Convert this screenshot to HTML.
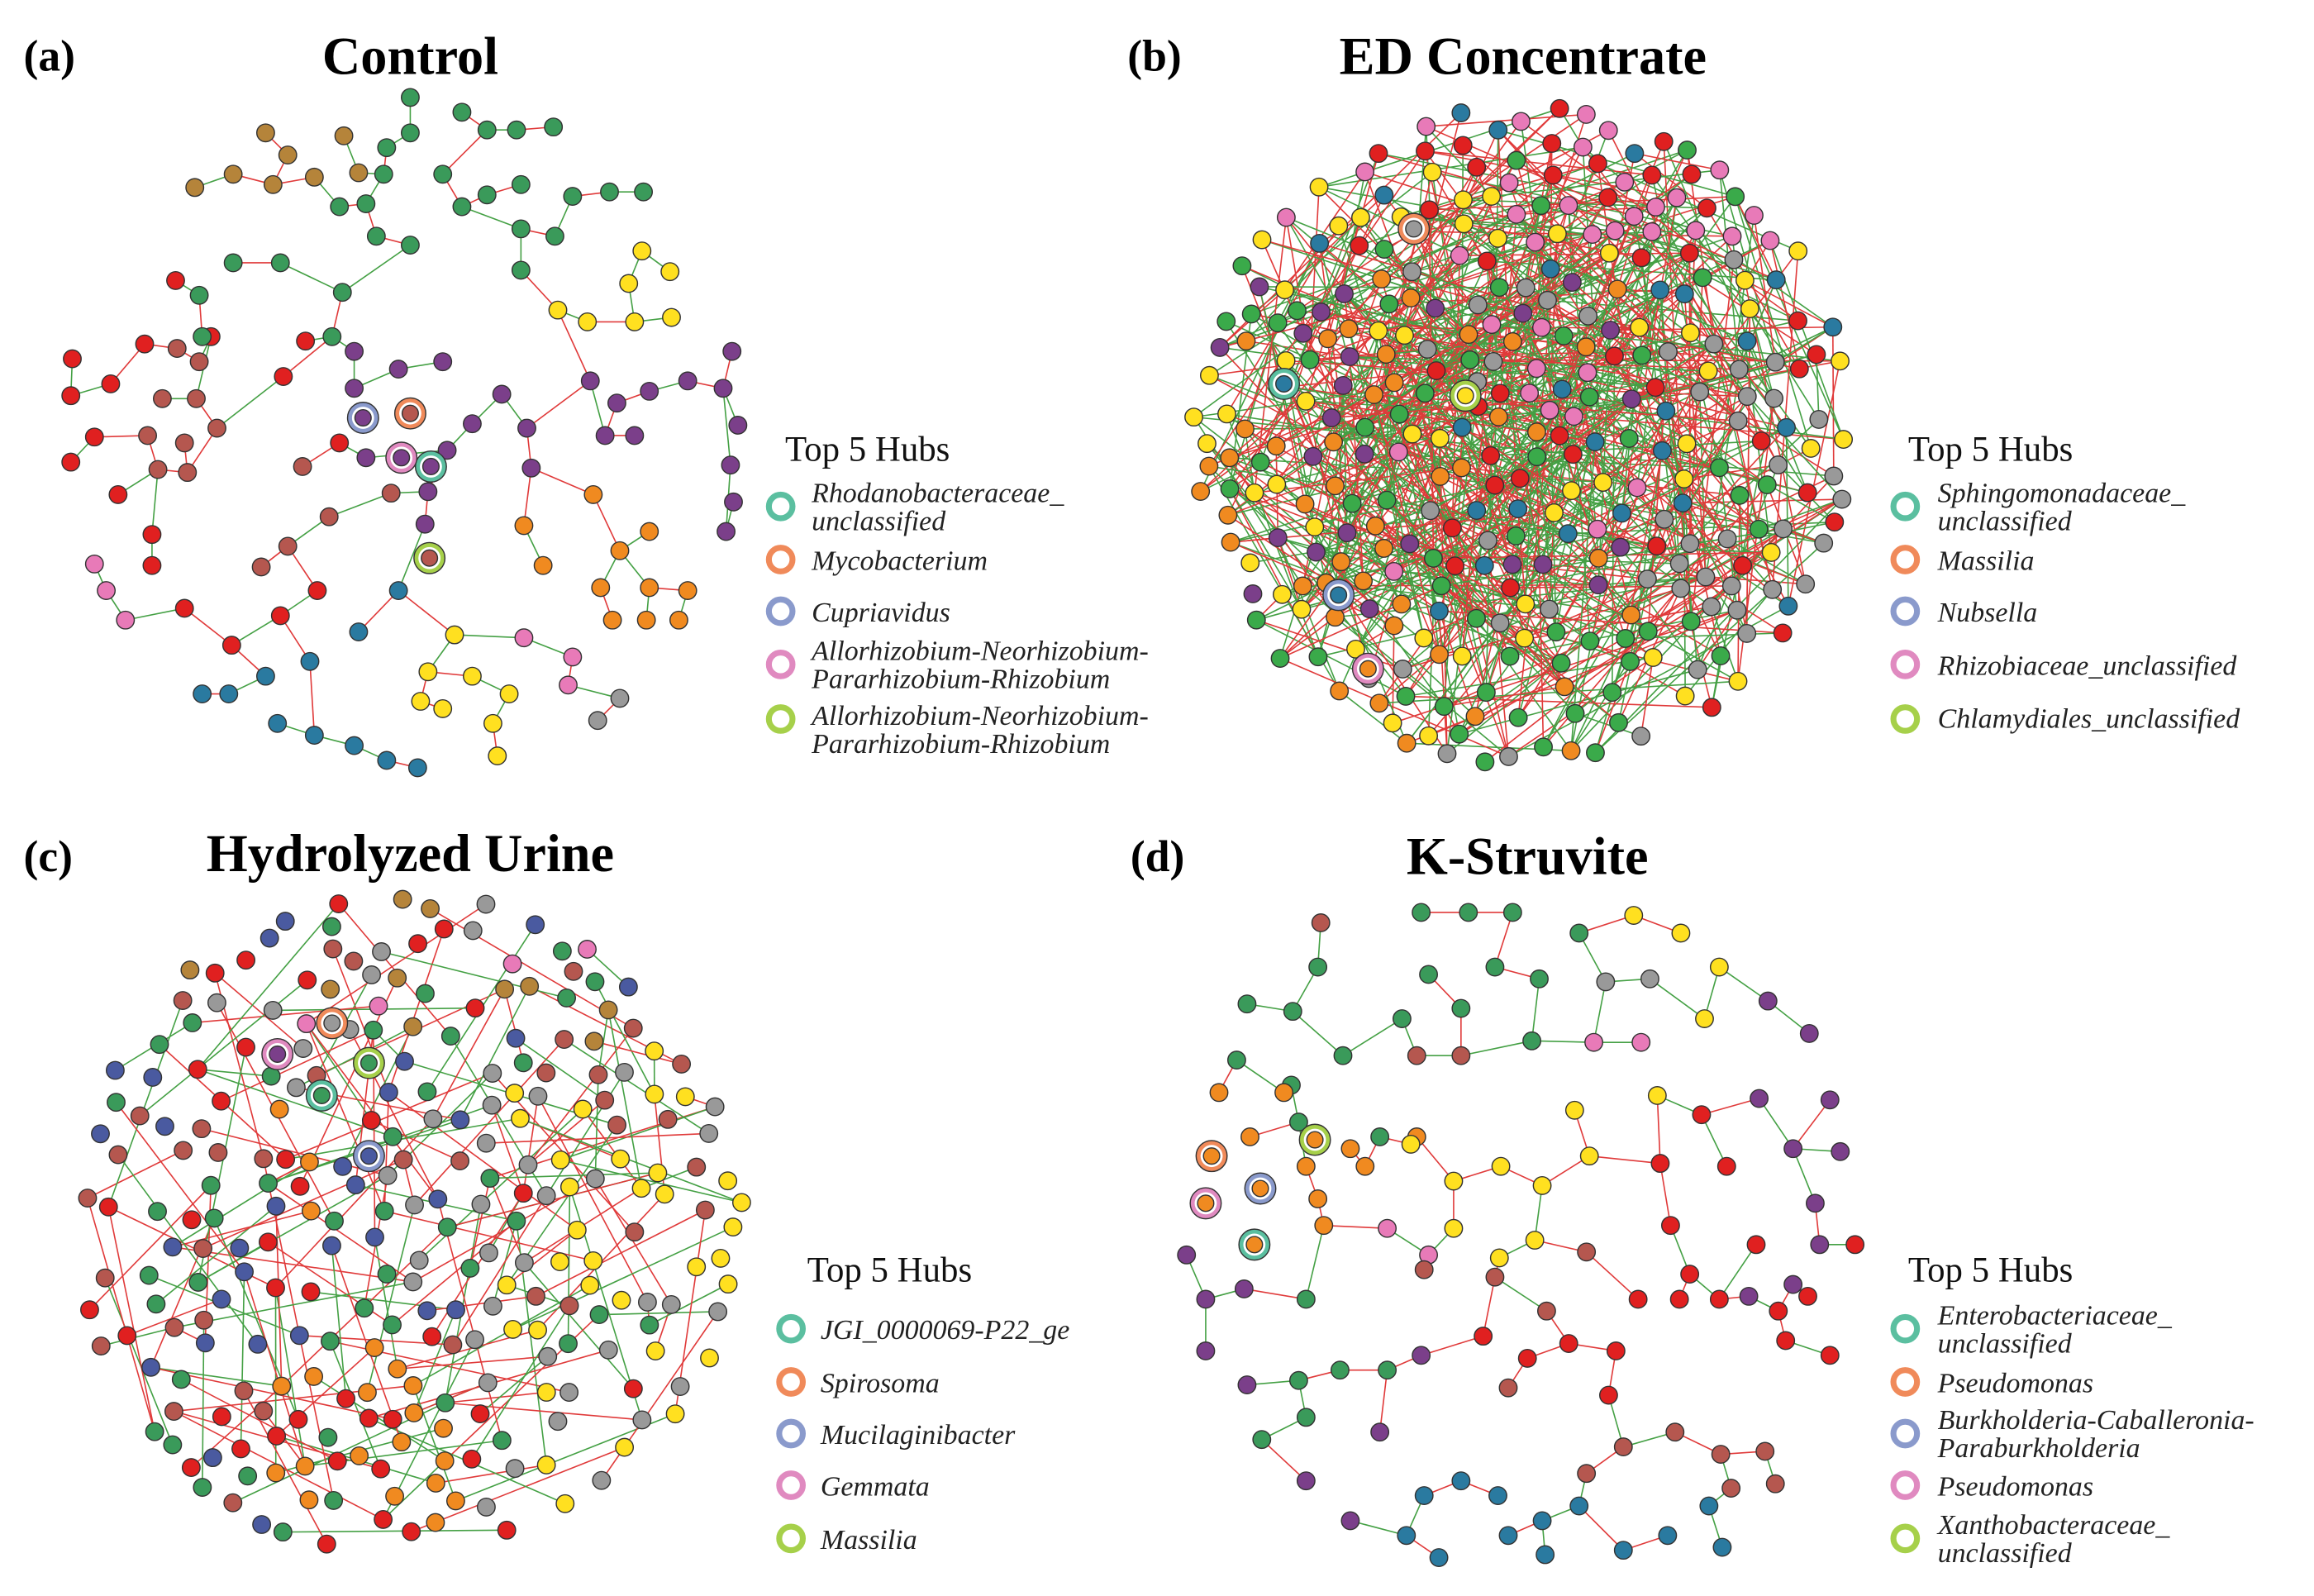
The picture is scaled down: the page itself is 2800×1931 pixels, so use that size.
<!DOCTYPE html>
<html><head><meta charset="utf-8">
<style>
html,body{margin:0;padding:0;background:#fff;}
svg{display:block;}
.t{font-family:"Liberation Serif",serif;font-weight:bold;fill:#000;}
.lg{font-family:"Liberation Serif",serif;fill:#111;font-size:24px;}
.it{font-family:"Liberation Serif",serif;font-style:italic;fill:#222;font-size:19px;}
</style></head>
<body>
<svg id="s" xmlns="http://www.w3.org/2000/svg" width="2800" height="1931" viewBox="0 0 1568 1081" preserveAspectRatio="none">
<rect width="1568" height="1081" fill="#fff"/>
<g id="edges"></g><g id="nodes"></g>
<text class="t" x="16" y="48" font-size="30">(a)</text>
<text class="t" x="278" y="50" font-size="36" text-anchor="middle">Control</text>
<text class="t" x="764" y="48" font-size="30">(b)</text>
<text class="t" x="1032" y="50" font-size="36" text-anchor="middle">ED Concentrate</text>
<text class="t" x="16" y="590" font-size="30">(c)</text>
<text class="t" x="278" y="590" font-size="36" text-anchor="middle">Hydrolyzed Urine</text>
<text class="t" x="766" y="590" font-size="30">(d)</text>
<text class="t" x="1035" y="592" font-size="36" text-anchor="middle">K-Struvite</text>

<g>
<text class="lg" x="532" y="312">Top 5 Hubs</text>
<circle cx="529" cy="343" r="8" fill="none" stroke="#5bbfa0" stroke-width="4"/>
<text class="it" x="550" y="340">Rhodanobacteraceae_</text><text class="it" x="550" y="359">unclassified</text>
<circle cx="529" cy="379" r="8" fill="none" stroke="#f08a5a" stroke-width="4"/>
<text class="it" x="550" y="386">Mycobacterium</text>
<circle cx="529" cy="414" r="8" fill="none" stroke="#8a9acc" stroke-width="4"/>
<text class="it" x="550" y="421">Cupriavidus</text>
<circle cx="529" cy="450" r="8" fill="none" stroke="#e08ac0" stroke-width="4"/>
<text class="it" x="550" y="447">Allorhizobium-Neorhizobium-</text><text class="it" x="550" y="466">Pararhizobium-Rhizobium</text>
<circle cx="529" cy="487" r="8" fill="none" stroke="#a6d04a" stroke-width="4"/>
<text class="it" x="550" y="491">Allorhizobium-Neorhizobium-</text><text class="it" x="550" y="510">Pararhizobium-Rhizobium</text>
</g>
<g>
<text class="lg" x="1293" y="312">Top 5 Hubs</text>
<circle cx="1291" cy="343" r="8" fill="none" stroke="#5bbfa0" stroke-width="4"/>
<text class="it" x="1313" y="340">Sphingomonadaceae_</text><text class="it" x="1313" y="359">unclassified</text>
<circle cx="1291" cy="379" r="8" fill="none" stroke="#f08a5a" stroke-width="4"/>
<text class="it" x="1313" y="386">Massilia</text>
<circle cx="1291" cy="414" r="8" fill="none" stroke="#8a9acc" stroke-width="4"/>
<text class="it" x="1313" y="421">Nubsella</text>
<circle cx="1291" cy="450" r="8" fill="none" stroke="#e08ac0" stroke-width="4"/>
<text class="it" x="1313" y="457">Rhizobiaceae_unclassified</text>
<circle cx="1291" cy="487" r="8" fill="none" stroke="#a6d04a" stroke-width="4"/>
<text class="it" x="1313" y="493">Chlamydiales_unclassified</text>
</g>
<g>
<text class="lg" x="547" y="868">Top 5 Hubs</text>
<circle cx="536" cy="900" r="8" fill="none" stroke="#5bbfa0" stroke-width="4"/>
<text class="it" x="556" y="907">JGI_0000069-P22_ge</text>
<circle cx="536" cy="936" r="8" fill="none" stroke="#f08a5a" stroke-width="4"/>
<text class="it" x="556" y="943">Spirosoma</text>
<circle cx="536" cy="971" r="8" fill="none" stroke="#8a9acc" stroke-width="4"/>
<text class="it" x="556" y="978">Mucilaginibacter</text>
<circle cx="536" cy="1006" r="8" fill="none" stroke="#e08ac0" stroke-width="4"/>
<text class="it" x="556" y="1013">Gemmata</text>
<circle cx="536" cy="1042" r="8" fill="none" stroke="#a6d04a" stroke-width="4"/>
<text class="it" x="556" y="1049">Massilia</text>
</g>
<g>
<text class="lg" x="1293" y="868">Top 5 Hubs</text>
<circle cx="1291" cy="900" r="8" fill="none" stroke="#5bbfa0" stroke-width="4"/>
<text class="it" x="1313" y="897">Enterobacteriaceae_</text><text class="it" x="1313" y="916">unclassified</text>
<circle cx="1291" cy="936" r="8" fill="none" stroke="#f08a5a" stroke-width="4"/>
<text class="it" x="1313" y="943">Pseudomonas</text>
<circle cx="1291" cy="971" r="8" fill="none" stroke="#8a9acc" stroke-width="4"/>
<text class="it" x="1313" y="968">Burkholderia-Caballeronia-</text><text class="it" x="1313" y="987">Paraburkholderia</text>
<circle cx="1291" cy="1006" r="8" fill="none" stroke="#e08ac0" stroke-width="4"/>
<text class="it" x="1313" y="1013">Pseudomonas</text>
<circle cx="1291" cy="1042" r="8" fill="none" stroke="#a6d04a" stroke-width="4"/>
<text class="it" x="1313" y="1039">Xanthobacteraceae_</text><text class="it" x="1313" y="1058">unclassified</text>
</g>
</svg>
<script>
(function(){
var NS="http://www.w3.org/2000/svg";
var E=document.getElementById("edges"),N=document.getElementById("nodes");
var seed=12345;function rnd(){seed=(seed*1103515245+12345)%2147483648;return seed/2147483648;}
function line(a,b,c){var l=document.createElementNS(NS,"line");l.setAttribute("x1",a[0]);l.setAttribute("y1",a[1]);l.setAttribute("x2",b[0]);l.setAttribute("y2",b[1]);l.setAttribute("stroke",c);l.setAttribute("stroke-width","0.9");E.appendChild(l);}
function node(x,y,c,r){var k=document.createElementNS(NS,"circle");k.setAttribute("cx",x);k.setAttribute("cy",y);k.setAttribute("r",r||6);k.setAttribute("fill",c);k.setAttribute("stroke","#333");k.setAttribute("stroke-width","0.8");N.appendChild(k);}
function hub(x,y,ring,c){var k=document.createElementNS(NS,"circle");k.setAttribute("cx",x);k.setAttribute("cy",y);k.setAttribute("r",10.5);k.setAttribute("fill",ring);k.setAttribute("stroke","#333");k.setAttribute("stroke-width","0.8");N.appendChild(k);
var k2=document.createElementNS(NS,"circle");k2.setAttribute("cx",x);k2.setAttribute("cy",y);k2.setAttribute("r",7.5);k2.setAttribute("fill","#fff");N.appendChild(k2);node(x,y,c,5.5);}
var RED="#e03a3a",GRN="#44a044";
var C={g:"#3a9a5a",o:"#b5843a",r:"#e02020",b:"#b5574f",p:"#7b3f8a",y:"#ffe020",O:"#f08a20",t:"#2a7aa0",k:"#e87ab8",x:"#999999",n:"#4a5aa0",G:"#3aaa4a"};
function sparse(list){var pts=list.map(function(s){return [s[0],s[1],s[2]];});
for(var i=1;i<pts.length;i++){var best=-1,bd=1e9;for(var j=0;j<i;j++){var dx=pts[i][0]-pts[j][0],dy=pts[i][1]-pts[j][1],d=dx*dx+dy*dy;if(d<bd){bd=d;best=j;}}
if(bd<60*60)line(pts[i],pts[best],rnd()<0.5?RED:GRN);}
pts.forEach(function(p){node(p[0],p[1],C[p[2]]);});}
function P(s,c){var a=[];for(var i=0;i<s.length;i+=2)a.push([s[i],s[i+1],c]);return a;}
var A=[].concat(
P([278,66,313,76,278,90,262,100,330,88,350,88,375,86,260,118,300,118,248,138,230,140,255,160,278,166,313,140,330,132,353,125,388,133,413,130,436,130,353,155,376,160,353,183,232,198,225,228,158,178,190,178,135,200,137,228],"g"),
P([180,90,195,105,233,92,213,120,185,125,158,118,132,127,243,117],"o"),
P([119,190,98,233,143,228,49,243,75,260,48,268,64,296,48,313,80,335,103,362,103,383,125,412,157,437,190,417,215,400,192,255,207,231,230,300],"r"),
P([120,236,135,245,110,270,133,270,100,295,125,300,147,290,107,318,127,320,205,316,223,350,195,370,177,384,265,334],"b"),
P([240,238,300,245,340,267,320,287,303,305,360,317,357,290,248,310,290,333,288,355,400,258,418,273,440,265,466,258,496,238,490,263,500,288,495,315,497,340,492,360,410,295,430,295,240,263,270,250],"p"),
P([435,170,426,192,454,184,398,218,430,218,455,215,378,210,308,430,290,455,320,458,345,470,334,490,337,512,300,480,285,475],"y"),
P([402,335,420,373,440,360,368,383,355,356,407,398,415,420,440,398,466,400,460,420,438,420],"O"),
P([270,400,243,428,210,448,180,458,137,470,155,470,188,490,213,498,240,505,262,515,283,520],"t"),
P([64,382,72,400,85,420,388,445,385,464,355,432],"k"),P([420,473,405,488],"x"));
A.sort(function(a,b){return (Math.hypot(a[0]-278,a[1]-300))-(Math.hypot(b[0]-278,b[1]-300));});
sparse(A);
hub(278,280,"#f08a5a",C.b);hub(246,283,"#8a9acc",C.p);hub(292,316,"#5bbfa0",C.p);hub(272,310,"#e08ac0",C.p);hub(291,378,"#a6d04a",C.b);
var D=[].concat(
P([963,618,995,618,1025,618,1070,632,968,660,1013,655,1043,663,893,655,950,690,990,683,1038,705,845,680,876,685,838,718,875,735,880,760,910,715,935,770,885,880,940,928,908,928,855,975,885,960,880,935],"g"),
P([1107,620,1139,632,1165,655,1155,690,1067,752,1123,742,1077,783,1045,803,1017,790,985,800,956,775,985,832,1040,840,1016,852],"y"),
P([1088,665,1118,663],"x"),P([1080,706,1112,706,940,832,968,850],"k"),
P([1198,678,1226,700,1192,744,1240,745,1215,778,1247,780,1230,815,1233,843,1185,878,1215,870,804,850,817,880,843,873,817,915,845,938,885,1003,915,1030,935,970,963,918],"p"),
P([1153,755,1170,790,1125,788,1132,830,1145,863,1165,880,1138,880,1190,843,1205,888,1225,878,1240,918,1210,908,1257,843,1095,915,1063,910,1005,905,1090,945,1035,920,1110,880],"r"),
P([1075,848,1048,888,1013,865,965,860,1022,940,1075,998,1100,980,1135,970,1166,985,1196,983,1173,1008,1203,1005,895,625,960,715,990,715],"b"),
P([990,1003,1015,1013,965,1013,975,1055,1022,1040,1045,1030,1070,1020,1100,1050,1130,1040,1158,1020,1167,1048,1047,1053,953,1040],"t"),
P([826,740,847,770,885,790,870,740,915,778,925,790,960,770,893,812,897,830],"O"));
D.sort(function(a,b){return (Math.hypot(a[0]-1030,a[1]-800))-(Math.hypot(b[0]-1030,b[1]-800));});
sparse(D);
hub(821,783,"#f08a5a",C.O);hub(817,815,"#e08ac0",C.O);hub(854,805,"#8a9acc",C.O);hub(850,843,"#5bbfa0",C.O);hub(891,772,"#a6d04a",C.O);
function dense(cx,cy,rx,ry,n,colorFn,deg,maxd){var pts=[];var tries=0;
while(pts.length<n&&tries<20000){tries++;var a=rnd()*Math.PI*2,r=Math.sqrt(rnd());var x=cx+Math.cos(a)*r*rx,y=cy+Math.sin(a)*r*ry;var ok=true;
for(var i=0;i<pts.length;i++){if(Math.hypot(pts[i][0]-x,pts[i][1]-y)<15){ok=false;break;}}if(ok)pts.push([x,y]);}
pts.forEach(function(p,i){for(var k=0;k<deg;k++){var j=Math.floor(rnd()*pts.length);var q=pts[j];if(Math.hypot(p[0]-q[0],p[1]-q[1])<maxd)line(p,q,rnd()<0.5?RED:GRN);}});
pts.forEach(function(p){node(p[0],p[1],colorFn(p[0]-cx,p[1]-cy));});}
function pick(arr){return arr[Math.floor(rnd()*arr.length)];}
dense(1032,295,225,225,330,function(dx,dy){var q=rnd();
if(dy<-120)return pick(["#e87ab8","#e87ab8","#e87ab8","#e02020","#ffe020","#3aaa4a","#2a7aa0"]);
if(dx>90)return pick(["#999999","#999999","#999999","#2a7aa0","#ffe020","#e02020","#3aaa4a"]);
if(dy>120)return pick(["#3aaa4a","#3aaa4a","#999999","#f08a20","#ffe020"]);
if(dx<-90)return pick(["#f08a20","#f08a20","#3aaa4a","#7b3f8a","#ffe020"]);
return pick(["#f08a20","#e02020","#3aaa4a","#ffe020","#e87ab8","#2a7aa0","#999999","#7b3f8a"]);},4,260);
dense(275,830,230,225,260,function(dx,dy){
if(dy<-120)return pick(["#4a5aa0","#999999","#e87ab8","#b5843a","#e02020","#3a9a5a","#b5574f"]);
if(dx<-90)return pick(["#b5574f","#b5574f","#3a9a5a","#e02020","#4a5aa0"]);
if(dx>80&&dy<60)return pick(["#ffe020","#ffe020","#ffe020","#999999","#b5574f"]);
if(dx>40)return pick(["#999999","#999999","#ffe020","#3a9a5a","#e02020"]);
if(dy>100)return pick(["#3a9a5a","#f08a20","#e02020","#f08a20"]);
return pick(["#e02020","#f08a20","#3a9a5a","#999999","#4a5aa0","#b5574f"]);},2,170);
hub(958,155,"#f08a5a","#999999");hub(870,260,"#5bbfa0","#2a7aa0");hub(993,268,"#a6d04a","#ffe020");hub(907,403,"#8a9acc","#2a7aa0");hub(927,453,"#e08ac0","#f08a20");
hub(225,693,"#f08a5a","#999999");hub(188,714,"#e08ac0","#7b3f8a");hub(250,720,"#a6d04a","#3a9a5a");hub(218,742,"#5bbfa0","#3a9a5a");hub(250,783,"#8a9acc","#4a5aa0");
})();
</script>
</body></html>
